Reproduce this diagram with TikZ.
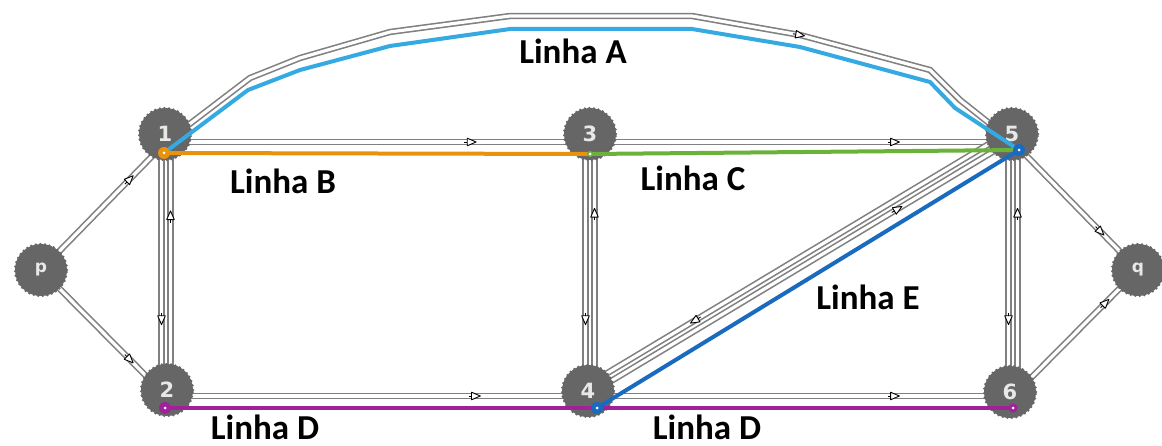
\documentclass[tikz,border=0pt]{standalone}
\usepackage{fontspec}
\setmainfont{Carlito}
\newfontfamily\numfont{DejaVu Sans}
\usetikzlibrary{calc,decorations.markings}
\definecolor{nodegray}{HTML}{666666}
\definecolor{nodetext}{HTML}{E8E8E8}
\definecolor{linkgray}{HTML}{808080}
\definecolor{lineA}{HTML}{35A9E1}
\definecolor{lineB}{HTML}{E8920E}
\definecolor{lineC}{HTML}{6BB23A}
\definecolor{lineD}{HTML}{A0219B}
\definecolor{lineE}{HTML}{1A6BC0}
\tikzset{
  netnode/.style={circle, fill=nodegray, draw=nodegray, minimum size=52pt, inner sep=0pt,
    line width=2.6pt, dash pattern=on 0pt off 4.6pt, line cap=round,
    text=nodetext, font=\numfont\bfseries\fontsize{21}{21}\selectfont},
  smallnode/.style={netnode, font=\numfont\bfseries\fontsize{17}{17}\selectfont},
  link/.style={draw=linkgray, line width=1.6pt, double=white, double distance=3.2pt},
  flowmark/.style={postaction={decorate, decoration={markings, mark=at position #1 with {
      \draw[black, fill=white, line width=0.9pt, line join=round] (-4pt,-3.8pt) -- (4.8pt,0pt) -- (-4pt,3.8pt) -- cycle;
      \draw[black, line width=0.9pt] (-7pt,0pt) -- (-4pt,0pt);}}}},
  transit/.style={line width=4pt, line cap=round, line join=round},
  stopmark/.style={circle, fill=#1, minimum size=12pt, inner sep=0pt},
  stopdot/.style={circle, fill=white, minimum size=3pt, inner sep=0pt},
  lbl/.style={font=\bfseries\fontsize{35}{35}\selectfont, text=black, inner sep=0pt},
}
\begin{document}
\begin{tikzpicture}[x=1pt, y=-1pt]
\useasboundingbox (0,0) rectangle (1162,446);
\fill[white] (0,0) rectangle (1162,446);
% junctions
\coordinate (j1) at (166,142);
\coordinate (j3) at (590,142);
\coordinate (j5) at (1013,142);
\coordinate (j2) at (166,396);
\coordinate (j4) at (590,396);
\coordinate (j6) at (1013,396);
\coordinate (jp) at (41,270);
\coordinate (jq) at (1138,270);
% stop points
\coordinate (s1) at (164,153);
\coordinate (s3) at (590,154);
\coordinate (s5) at (1019,150);
\coordinate (s2) at (165,408);
\coordinate (s4) at (597,408);
\coordinate (s6) at (1013,408);
% links
\draw[link] (j1) -- (j3);
\draw[link] (j3) -- (j5);
\draw[link] (j2) -- (j4);
\draw[link] (j4) -- (j6);
\draw[link] (jp) -- (j1);
\draw[link] (jp) -- (j2);
\draw[link] (j5) -- (jq);
\draw[link] (j6) -- (jq);
\draw[link] ([xshift=-4.5pt]j1) -- ([xshift=-4.5pt]j2);
\draw[link] ([xshift=4.5pt]j2) -- ([xshift=4.5pt]j1);
\draw[link] ([xshift=-4.5pt]j3) -- ([xshift=-4.5pt]j4);
\draw[link] ([xshift=4.5pt]j4) -- ([xshift=4.5pt]j3);
\draw[link] ([xshift=-4.5pt]j5) -- ([xshift=-4.5pt]j6);
\draw[link] ([xshift=4.5pt]j6) -- ([xshift=4.5pt]j5);
\draw[link] ([shift={(-1,-1.7)}]j4) -- ([shift={(-1,-1.7)}]j5);
\draw[link] ([shift={(-5.4,-9.3)}]j5) -- ([shift={(-5.4,-9.3)}]j4);
\draw[link] (j1) -- (250,78) -- (300,58) -- (390,32) -- (510,16) -- (692,16) -- (800,35) -- (930,70) -- (960,100) -- (j5);
% flow markers
\path[flowmark=0.72] (j1) -- (j3);
\path[flowmark=0.72] (j3) -- (j5);
\path[flowmark=0.73] (j2) -- (j4);
\path[flowmark=0.72] (j4) -- (j6);
\path[flowmark=0.71] (jp) -- (j1);
\path[flowmark=0.71] (jp) -- (j2);
\path[flowmark=0.70] (j5) -- (jq);
\path[flowmark=0.74] (j6) -- (jq);
\path[flowmark=0.70] ([xshift=-4.5pt]j1) -- ([xshift=-4.5pt]j2);
\path[flowmark=0.71] ([xshift=4.5pt]j2) -- ([xshift=4.5pt]j1);
\path[flowmark=0.70] ([xshift=-4.5pt]j3) -- ([xshift=-4.5pt]j4);
\path[flowmark=0.72] ([xshift=4.5pt]j4) -- ([xshift=4.5pt]j3);
\path[flowmark=0.70] ([xshift=-4.5pt]j5) -- ([xshift=-4.5pt]j6);
\path[flowmark=0.72] ([xshift=4.5pt]j6) -- ([xshift=4.5pt]j5);
\path[flowmark=0.73] ([shift={(-1,-1.7)}]j4) -- ([shift={(-1,-1.7)}]j5);
\path[flowmark=0.74] ([shift={(-5.4,-9.3)}]j5) -- ([shift={(-5.4,-9.3)}]j4);
\path[flowmark=0.731] (j1) -- (250,78) -- (300,58) -- (390,32) -- (510,16) -- (692,16) -- (800,35) -- (930,70) -- (960,100) -- (j5);
% nodes
\node[netnode] (n1) at (165,134) {1};
\node[netnode] (n3) at (590,134) {3};
\node[netnode] (n5) at (1012,134) {5};
\node[netnode] (n2) at (167,390) {2};
\node[netnode] (n4) at (588,391) {4};
\node[netnode] (n6) at (1010,392) {6};
\node[smallnode] (np) at (41,270) {p};
\node[smallnode] (nq) at (1138,270) {q};
% transit lines
\draw[transit, lineA] (s1) -- (248,90) -- (300,70) -- (390,46) -- (510,29) -- (692,29) -- (800,47) -- (930,82) -- (955,108) -- (s5);
\draw[transit, lineB] (s1) -- (s3);
\draw[transit, lineC] (s3) -- (s5);
\draw[transit, lineD] (s2) -- (s4) -- (s6);
\draw[transit, lineE] (s4) -- (s5);
% stop markers
\node[stopmark=lineB] (m1) at (s1) {};
\node[stopmark=lineC, minimum size=6pt] (m3) at (s3) {};
\node[stopmark=lineE] (m5) at (s5) {};
\node[stopmark=lineD] (m2) at (s2) {};
\node[stopmark=lineE] (m4) at (s4) {};
\node[stopmark=lineD, minimum size=9pt] (m6) at (s6) {};
\foreach \m in {m1,m3,m5,m2,m4,m6} \node[stopdot] at (\m) {};
% labels
\node[lbl] (la) at (573,51) {Linha A};
\node[lbl] (lb) at (283,181) {Linha B};
\node[lbl] (lc) at (693,178) {Linha C};
\node[lbl] (le) at (868,297) {Linha E};
\node[lbl] (ld1) at (265,427) {Linha D};
\node[lbl] (ld2) at (707,427) {Linha D};
\end{tikzpicture}
\end{document}
